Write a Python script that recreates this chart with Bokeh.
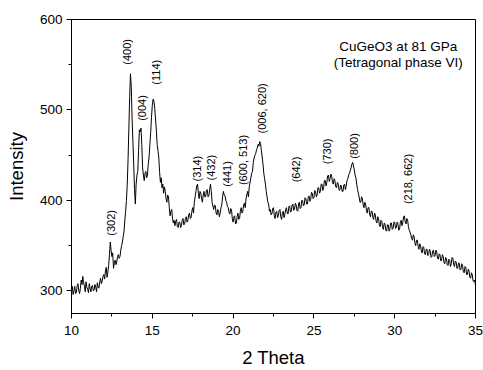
import numpy as np
from bokeh.plotting import figure
from bokeh.models import ColumnDataSource, SingleIntervalTicker, Range1d, Label
from bokeh.core.properties import value
from bokeh.embed import file_html
from bokeh.resources import INLINE

# Intensity sampled every 0.05 deg from 10.0 to 35.0 (2 Theta), one row per degree
intensity = [
    301, 305, 296, 300, 305, 297, 298, 306, 308, 300, 297, 303, 312, 307, 316, 309, 305, 299, 310, 304,
    302, 298, 308, 303, 299, 305, 306, 300, 301, 307, 304, 299, 309, 304, 303, 310, 314, 308, 311, 316,
    318, 313, 322, 326, 315, 321, 328, 340, 354, 345, 338, 342, 325, 331, 334, 329, 332, 338, 340, 336,
    338, 345, 350, 354, 360, 366, 378, 388, 400, 418, 445, 480, 515, 540, 525, 490, 465, 440, 412, 396,
    418, 428, 432, 455, 478, 476, 480, 462, 436, 428, 422, 430, 432, 425, 428, 440, 448, 462, 475, 492,
    505, 512, 510, 502, 490, 478, 462, 455, 448, 432, 420, 425, 414, 418, 408, 415, 410, 402, 398, 406,
    404, 392, 383, 388, 390, 380, 375, 378, 372, 377, 379, 371, 370, 376, 376, 370, 372, 378, 380, 373,
    374, 380, 382, 376, 378, 384, 386, 380, 381, 388, 392, 386, 398, 404, 410, 416, 418, 408, 402, 410,
    408, 402, 398, 406, 410, 404, 404, 411, 412, 404, 405, 412, 418, 410, 398, 394, 390, 395, 394, 386,
    384, 390, 388, 382, 386, 392, 395, 404, 410, 406, 405, 400, 398, 393, 392, 387, 385, 391, 390, 380,
    376, 382, 383, 374, 375, 382, 386, 379, 380, 388, 392, 386, 388, 395, 397, 392, 402, 406, 410, 404,
    415, 420, 425, 430, 432, 442, 447, 450, 452, 456, 458, 462, 460, 465, 463, 455, 448, 440, 430, 424,
    418, 410, 404, 398, 396, 388, 390, 384, 385, 391, 392, 383, 380, 387, 388, 381, 383, 389, 390, 382,
    379, 386, 388, 381, 384, 390, 392, 386, 385, 393, 394, 387, 388, 395, 396, 389, 390, 397, 395, 389,
    388, 396, 398, 391, 392, 400, 400, 394, 395, 403, 402, 396, 396, 404, 405, 399, 401, 409, 408, 402,
    403, 411, 410, 404, 406, 414, 414, 408, 410, 418, 418, 411, 414, 422, 422, 416, 420, 427, 428, 421,
    424, 429, 427, 420, 418, 424, 422, 415, 414, 420, 419, 412, 411, 417, 416, 410, 410, 417, 418, 412,
    416, 422, 424, 428, 430, 433, 436, 440, 442, 438, 434, 428, 425, 418, 412, 408, 404, 398, 398, 404,
    402, 395, 392, 398, 396, 389, 386, 392, 392, 385, 382, 388, 388, 381, 379, 386, 384, 377, 375, 382,
    380, 373, 371, 378, 377, 370, 368, 375, 374, 367, 366, 373, 373, 366, 368, 375, 375, 368, 369, 376,
    376, 369, 370, 376, 374, 367, 368, 376, 378, 372, 376, 382, 383, 376, 374, 380, 378, 371, 367, 365,
    362, 358, 356, 362, 360, 353, 350, 356, 356, 349, 346, 352, 350, 344, 342, 349, 348, 341, 340, 346,
    346, 339, 340, 346, 344, 337, 338, 344, 345, 338, 339, 345, 343, 336, 335, 341, 340, 333, 334, 340,
    338, 331, 330, 337, 336, 329, 328, 335, 334, 327, 330, 337, 336, 329, 327, 333, 332, 325, 325, 331,
    330, 323, 324, 330, 328, 321, 320, 327, 326, 318, 318, 324, 322, 315, 314, 320, 318, 311, 310, 312,
    306,
]
two_theta = np.linspace(10.0, 35.0, len(intensity))

peak_labels = ["(302)", "(400)", "(004)", "(114)", "(314)", "(432)", "(441)",
               "(600, 513)", "(006, 620)", "(642)", "(730)", "(800)", "(218, 662)"]
peak_pos = [12.42, 13.41, 14.38, 15.21, 17.75, 18.62, 19.6,
            20.6, 21.77, 23.9, 25.8, 27.5, 30.8]
peak_base = [361, 550, 488, 528, 421, 422, 415, 417, 474, 420, 440, 446, 396]

FONT = "Liberation Sans"

p = figure(width=483, height=370, output_backend="svg", toolbar_location=None,
           x_range=Range1d(10, 35), y_range=Range1d(275, 600))
p.min_border_left = 71
p.min_border_right = 8
p.min_border_top = 19
p.min_border_bottom = 51
p.background_fill_color = "white"
p.border_fill_color = "white"
p.outline_line_color = "black"
p.outline_line_width = 1
p.xgrid.visible = False
p.ygrid.visible = False

src = ColumnDataSource(dict(x=two_theta, y=intensity))
p.line("x", "y", source=src, line_color="black", line_width=1)

p.xaxis.ticker = SingleIntervalTicker(interval=5, num_minor_ticks=2)
p.yaxis.ticker = SingleIntervalTicker(interval=100, num_minor_ticks=2)
for ax in (p.xaxis[0], p.yaxis[0]):
    ax.axis_line_color = "black"
    ax.major_tick_line_color = "black"
    ax.minor_tick_line_color = "black"
    ax.major_tick_out = 5
    ax.major_tick_in = 0
    ax.minor_tick_out = 3
    ax.minor_tick_in = 0
    ax.major_label_text_font = FONT
    ax.major_label_text_font_size = "13.5px"
    ax.major_label_text_color = "black"
    ax.axis_label_text_font = FONT
    ax.axis_label_text_font_size = "18.5px"
    ax.axis_label_text_font_style = "normal"
    ax.axis_label_text_color = "black"
p.xaxis.axis_label = "2 Theta"
p.yaxis.axis_label = "Intensity"
p.xaxis.major_label_standoff = 7
p.yaxis.major_label_standoff = 4
p.xaxis.axis_label_standoff = 9
p.yaxis.axis_label_standoff = 10

lsrc = ColumnDataSource(dict(x=peak_pos, y=peak_base, t=peak_labels))
p.text("x", "y", text="t", source=lsrc, angle=np.pi / 2,
       text_align="left", text_baseline="middle",
       text_font=value(FONT), text_font_size="11px", text_color="black")

for txt, yy in (("CuGeO3 at 81 GPa", 570), ("(Tetragonal phase VI)", 552.5)):
    p.add_layout(Label(x=30.22, y=yy, text=txt, text_align="center",
                       text_baseline="middle", text_font=FONT,
                       text_font_size="13.5px", text_color="black"))

open("out.html", "w").write(file_html(p, INLINE))
